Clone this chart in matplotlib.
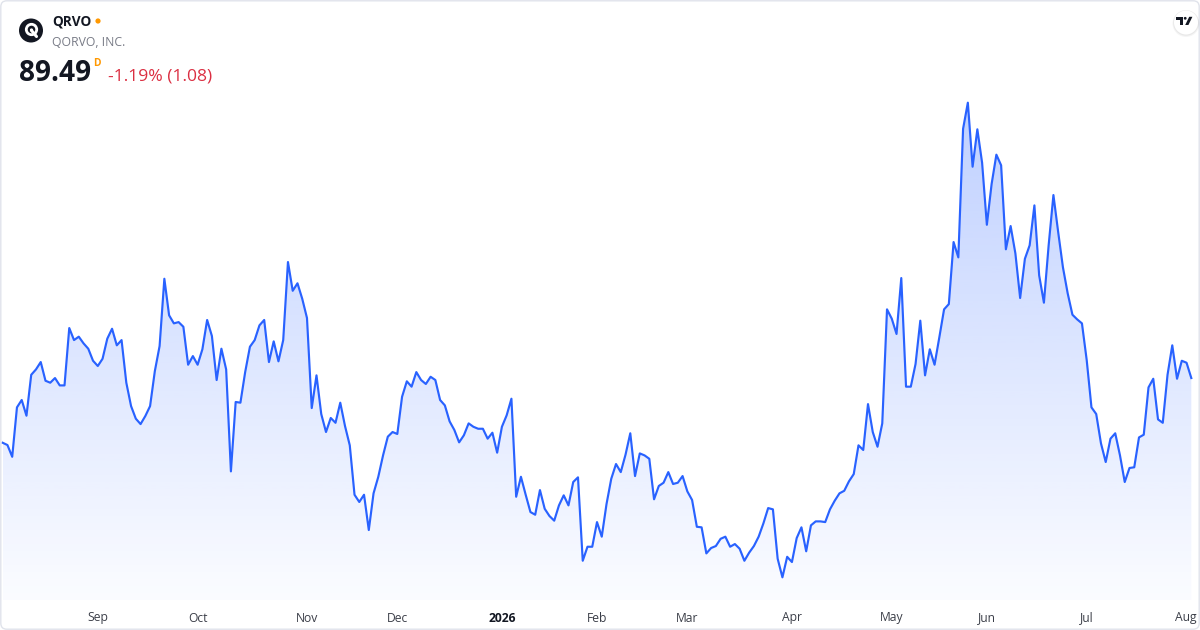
import numpy as np
import matplotlib
matplotlib.use("Agg")
import matplotlib.pyplot as plt
from matplotlib.patches import Polygon, Circle, FancyBboxPatch
import matplotlib.transforms as mtransforms

plt.rcParams['font.family'] = ['Open Sans', 'DejaVu Sans']

# ---------------- data ----------------
symbol = "QRVO"
company = "QORVO, INC."
last_price_text = "89.49"
interval_text = "D"
change_text = "-1.19% (1.08)"

prices = [
    84.92, 84.76, 83.93, 87.42, 87.94, 86.83, 89.72, 90.10, 90.62, 89.30,
    89.16, 89.49, 88.97, 88.97, 93.02, 92.17, 92.41, 91.94, 91.56, 90.71,
    90.34, 90.85, 92.27, 92.97, 91.80, 92.17, 89.16, 87.51, 86.62, 86.24,
    86.81, 87.51, 89.98, 91.75, 96.50, 93.92, 93.35, 93.44, 93.11, 90.43,
    91.04, 90.43, 91.52, 93.59, 92.46, 89.35, 91.56, 90.10, 82.90, 87.80,
    87.75, 89.91, 91.70, 92.17, 93.21, 93.59, 90.62, 92.08, 90.67, 92.17,
    97.68, 95.65, 96.18, 95.09, 93.73, 87.37, 89.68, 86.95, 85.68, 86.67,
    86.33, 87.75, 86.10, 84.74, 81.25, 80.74, 81.25, 78.76, 81.35, 82.52,
    84.03, 85.35, 85.68, 85.54, 88.17, 89.26, 88.88, 89.91, 89.35, 89.07,
    89.58, 89.35, 87.94, 87.56, 86.43, 85.82, 84.95, 85.45, 86.29, 86.05,
    85.91, 85.91, 85.21, 85.63, 84.22, 86.05, 86.86, 88.03, 81.11, 82.52,
    81.25, 80.03, 79.84, 81.58, 80.26, 79.75, 79.42, 80.50, 81.21, 80.50,
    82.15, 82.48, 76.59, 77.58, 77.58, 79.32, 78.29, 80.59, 82.38, 83.42,
    82.85, 84.08, 85.59, 82.57, 84.17, 84.03, 83.79, 80.93, 81.87, 82.10,
    82.85, 82.01, 82.10, 82.57, 81.49, 80.88, 78.99, 78.95, 77.11, 77.49,
    77.63, 78.14, 78.29, 77.58, 77.77, 77.44, 76.59, 77.16, 77.63, 78.29,
    79.23, 80.31, 80.22, 76.73, 75.42, 76.87, 76.50, 78.19, 78.95, 77.26,
    79.09, 79.37, 79.37, 79.32, 80.22, 80.83, 81.35, 81.53, 82.20, 82.71,
    84.74, 84.41, 87.65, 85.68, 84.64, 86.29, 94.34, 93.68, 92.60, 96.55,
    88.88, 88.88, 90.48, 93.54, 89.68, 91.52, 90.43, 92.36, 94.34, 94.71,
    99.09, 98.01, 107.09, 108.93, 104.41, 107.05, 104.69, 100.31, 103.19, 105.26,
    104.51, 98.58, 100.22, 98.29, 95.14, 97.91, 98.86, 101.68, 96.74, 94.81,
    98.88, 102.41, 99.80, 97.31, 95.47, 93.96, 93.63, 93.35, 90.76, 87.42,
    86.95, 84.88, 83.56, 85.21, 85.59, 84.03, 82.15, 83.14, 83.19, 85.30,
    85.49, 88.83, 89.44, 86.57, 86.33, 89.72, 91.80, 89.44, 90.71, 90.57,
    89.49,
]

month_labels = ["Sep", "Oct", "Nov", "Dec", "2026", "Feb", "Mar", "Apr",
                "May", "Jun", "Jul", "Aug"]
month_idx = [20, 41, 64, 83, 105, 125, 144, 166, 187, 207, 228, 250]
bold_labels = ["2026"]

# ---------------- figure ----------------
W, H = 1200, 630
fig = plt.figure(figsize=(W / 100, H / 100), dpi=100)
fig.patch.set_facecolor("white")

LINE = "#2962FF"
# main plot pane: pixel rows 0..600
ax = fig.add_axes([0, 30 / H, 1, 600 / H])
ax.set_xlim(-0.568, 251.83)
ax.set_ylim(73.82, 116.18)
ax.axis("off")

x = np.arange(len(prices))
y = np.array(prices)
ymin = ax.get_ylim()[0]

# gradient area fill
top = y.max()
n = 256
alpha = np.linspace(0.30, 0.02, n)
grad = np.zeros((n, 1, 4))
grad[:, 0, 0] = 41 / 255
grad[:, 0, 1] = 98 / 255
grad[:, 0, 2] = 1.0
grad[:, 0, 3] = alpha
im = ax.imshow(grad, aspect="auto", extent=[x[0], x[-1], ymin, top],
               origin="upper", zorder=1, interpolation="bilinear")
verts = [(x[0], ymin)] + list(zip(x, y)) + [(x[-1], ymin)]
poly = Polygon(verts, closed=True, facecolor="none", edgecolor="none",
               transform=ax.transData)
ax.add_patch(poly)
im.set_clip_path(poly)

ax.plot(x, y, color=LINE, lw=1.55, solid_joinstyle="round", zorder=3)
ax.set_xlim(-0.568, 251.83)
ax.set_ylim(73.82, 116.18)

# ---------------- overlay in pixel coordinates ----------------
ov = fig.add_axes([0, 0, 1, 1], zorder=5)
ov.set_xlim(0, W)
ov.set_ylim(H, 0)
ov.axis("off")
ov.patch.set_alpha(0)

# month labels
trans = mtransforms.blended_transform_factory(ax.transData, ov.transData)
for lab, idx in zip(month_labels, month_idx):
    px = ax.transData.transform((idx, 0))[0]
    bold = lab in bold_labels
    kw = dict(fontsize=8.7, va="baseline",
              color="#131722" if bold else "#3b3e48",
              fontweight="bold" if bold else "normal")
    if px + 12 > W - 3:
        ov.text(W - 3, 621.5, lab, ha="right", **kw)
    else:
        ov.text(idx, 621.5, lab, ha="center", transform=trans, **kw)

# border
ov.add_patch(FancyBboxPatch((0.8, 0.8), W - 1.6, H - 1.6,
                            boxstyle="round,pad=0,rounding_size=6",
                            fc="none", ec="#E0E3EB", lw=1.0))

# logo
ov.add_patch(Circle((31, 30.5), 12, fc="#131722", ec="none"))
ov.add_patch(Circle((31.5, 29.5), 5.2, fc="none", ec="white", lw=2.0))
ov.plot([31.5, 36.5], [30.5, 36.5], color="white", lw=2.2,
        solid_capstyle="round")
ov.add_patch(Circle((31.5, 30.0), 1.6, fc="white", ec="none"))

# header text
ov.text(52, 26, symbol, fontsize=9.8, fontweight="bold", color="#131722",
        va="baseline")
ov.add_patch(Circle((98, 21), 2.6, fc="#FF9800", ec="none"))
ov.text(51.5, 45.5, company, fontsize=8.8, color="#787B86", va="baseline")
ov.text(18.5, 81, last_price_text, fontsize=20.2, fontweight="bold",
        color="#131722", va="baseline")
ov.text(93.5, 65.7, interval_text, fontsize=7.4, fontweight="bold",
        color="#FF9800", va="baseline")
ov.text(108, 80.5, change_text, fontsize=12.6, color="#DB2F42", va="baseline")

# TradingView badge
ov.add_patch(Circle((1186, 23.5), 13.5, fc="#000000", alpha=0.04, ec="none"))
ov.add_patch(Circle((1186, 23), 12.8, fc="#000000", alpha=0.05, ec="none"))
ov.add_patch(Circle((1186, 22.5), 12, fc="white", ec="none"))
ov.add_patch(Polygon([(1176.0, 16.8), (1183.0, 16.8), (1183.0, 25.0),
                      (1180.2, 25.0), (1180.2, 19.5), (1176.0, 19.5)],
                     closed=True, fc="#131722", ec="none"))
ov.add_patch(Circle((1185.2, 18.3), 1.4, fc="#131722", ec="none"))
ov.add_patch(Polygon([(1185.2, 25.0), (1188.4, 25.0), (1192.4, 16.8),
                      (1189.2, 16.8)], closed=True, fc="#131722", ec="none"))

fig.savefig("out.png", dpi=100, facecolor="white")
